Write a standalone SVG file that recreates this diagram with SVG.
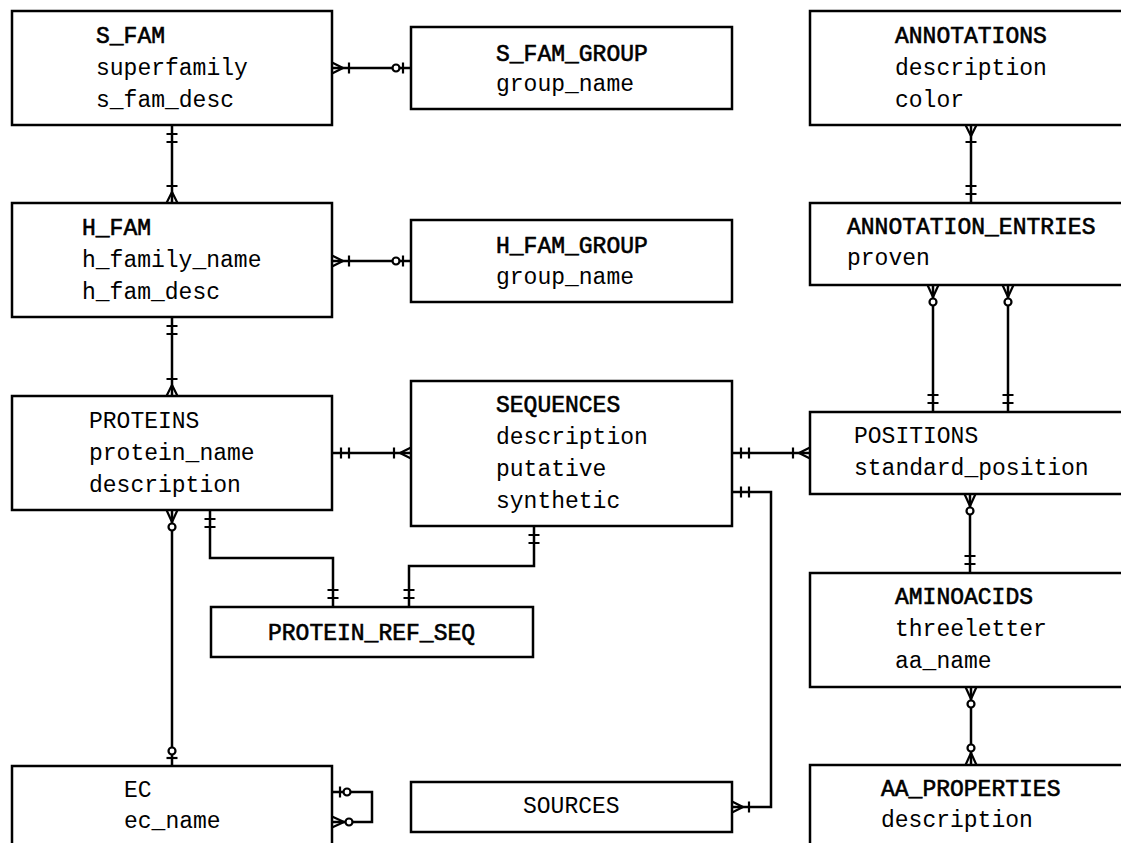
<svg xmlns="http://www.w3.org/2000/svg" xmlns:xlink="http://www.w3.org/1999/xlink" width="1121" height="843" viewBox="0 0 1121 843">
<style>
.box{fill:#fff;stroke:#000;stroke-width:2.5}
.t{font-family:"Liberation Mono","DejaVu Sans Mono",monospace;font-size:23px;fill:#000}
.b{stroke:#000;stroke-width:0.6}
.ln{fill:none;stroke:#000;stroke-width:2.5}
.sym{fill:none;stroke:#000;stroke-width:2.2}
.sym circle{fill:#fff}
</style>
<defs>
<g id="one" class="sym"><path d="M9,-5.5V5.5M17,-5.5V5.5"/></g>
<g id="onemany" class="sym"><path d="M0,-5.5L11,0L0,5.5M17,-5.5V5.5"/></g>
<g id="zeromany" class="sym"><path d="M0,-5.5L12,0L0,5.5"/><circle cx="17" cy="0" r="3.5"/></g>
<g id="zeroone" class="sym"><path d="M8,-5.5V5.5"/><circle cx="15" cy="0" r="3.5"/></g>
</defs>
<rect width="1121" height="843" fill="#fff"/>
<g id="connectors">
<path class="ln" d="M332,68H411"/>
<use href="#onemany" transform="translate(332,68)"/>
<use href="#zeroone" transform="translate(411,68) rotate(180)"/>
<path class="ln" d="M172,125V203"/>
<use href="#one" transform="translate(172,125) rotate(90)"/>
<use href="#onemany" transform="translate(172,203) rotate(-90)"/>
<path class="ln" d="M332,261H411"/>
<use href="#onemany" transform="translate(332,261)"/>
<use href="#zeroone" transform="translate(411,261) rotate(180)"/>
<path class="ln" d="M172,317V396"/>
<use href="#one" transform="translate(172,317) rotate(90)"/>
<use href="#onemany" transform="translate(172,396) rotate(-90)"/>
<path class="ln" d="M332,453H411"/>
<use href="#one" transform="translate(332,453)"/>
<use href="#onemany" transform="translate(411,453) rotate(180)"/>
<path class="ln" d="M172,510V766"/>
<use href="#zeromany" transform="translate(172,510) rotate(90)"/>
<use href="#zeroone" transform="translate(172,766) rotate(-90)"/>
<path class="ln" d="M210,510V558H333V607"/>
<use href="#one" transform="translate(210,510) rotate(90)"/>
<use href="#one" transform="translate(333,607) rotate(-90)"/>
<path class="ln" d="M534,526V566H409V607"/>
<use href="#one" transform="translate(534,526) rotate(90)"/>
<use href="#one" transform="translate(409,607) rotate(-90)"/>
<path class="ln" d="M732,453H810"/>
<use href="#one" transform="translate(732,453)"/>
<use href="#onemany" transform="translate(810,453) rotate(180)"/>
<path class="ln" d="M732,492H771V807H732"/>
<use href="#one" transform="translate(732,492)"/>
<use href="#onemany" transform="translate(732,807)"/>
<path class="ln" d="M332,792H372V822H332"/>
<use href="#zeroone" transform="translate(332,792)"/>
<use href="#zeromany" transform="translate(332,822)"/>
<path class="ln" d="M971,125V203"/>
<use href="#onemany" transform="translate(971,125) rotate(90)"/>
<use href="#one" transform="translate(971,203) rotate(-90)"/>
<path class="ln" d="M933,285V412"/>
<use href="#zeromany" transform="translate(933,285) rotate(90)"/>
<use href="#one" transform="translate(933,412) rotate(-90)"/>
<path class="ln" d="M1008,285V412"/>
<use href="#zeromany" transform="translate(1008,285) rotate(90)"/>
<use href="#one" transform="translate(1008,412) rotate(-90)"/>
<path class="ln" d="M970,494V573"/>
<use href="#zeromany" transform="translate(970,494) rotate(90)"/>
<use href="#one" transform="translate(970,573) rotate(-90)"/>
<path class="ln" d="M971,687V765"/>
<use href="#zeromany" transform="translate(971,687) rotate(90)"/>
<use href="#zeromany" transform="translate(971,765) rotate(-90)"/>
</g>
<g id="S_FAM">
<rect class="box" x="12" y="11" width="320" height="114"/>
<text class="t b" x="96" y="43">S_FAM</text>
<text class="t" x="96" y="75">superfamily</text>
<text class="t" x="96" y="107">s_fam_desc</text>
</g>
<g id="S_FAM_GROUP">
<rect class="box" x="411" y="27" width="321" height="82"/>
<text class="t b" x="496" y="61">S_FAM_GROUP</text>
<text class="t" x="496" y="91">group_name</text>
</g>
<g id="H_FAM">
<rect class="box" x="12" y="203" width="320" height="114"/>
<text class="t b" x="82" y="235">H_FAM</text>
<text class="t" x="82" y="267">h_family_name</text>
<text class="t" x="82" y="299">h_fam_desc</text>
</g>
<g id="H_FAM_GROUP">
<rect class="box" x="411" y="220" width="321" height="82"/>
<text class="t b" x="496" y="253">H_FAM_GROUP</text>
<text class="t" x="496" y="284">group_name</text>
</g>
<g id="PROTEINS">
<rect class="box" x="12" y="396" width="320" height="114"/>
<text class="t" x="89" y="428">PROTEINS</text>
<text class="t" x="89" y="460">protein_name</text>
<text class="t" x="89" y="492">description</text>
</g>
<g id="SEQUENCES">
<rect class="box" x="411" y="381" width="321" height="145"/>
<text class="t b" x="496" y="412">SEQUENCES</text>
<text class="t" x="496" y="444">description</text>
<text class="t" x="496" y="476">putative</text>
<text class="t" x="496" y="508">synthetic</text>
</g>
<g id="PROTEIN_REF_SEQ">
<rect class="box" x="211" y="607" width="322" height="50"/>
<text class="t b" x="268" y="640">PROTEIN_REF_SEQ</text>
</g>
<g id="EC">
<rect class="box" x="12" y="766" width="320" height="82"/>
<text class="t" x="124" y="797">EC</text>
<text class="t" x="124" y="828">ec_name</text>
</g>
<g id="SOURCES">
<rect class="box" x="411" y="782" width="321" height="50"/>
<text class="t" x="523" y="813">SOURCES</text>
</g>
<g id="ANNOTATIONS">
<rect class="box" x="810" y="11" width="322" height="114"/>
<text class="t b" x="895" y="43">ANNOTATIONS</text>
<text class="t" x="895" y="75">description</text>
<text class="t" x="895" y="107">color</text>
</g>
<g id="ANNOTATION_ENTRIES">
<rect class="box" x="810" y="203" width="322" height="82"/>
<text class="t b" x="847" y="234">ANNOTATION_ENTRIES</text>
<text class="t" x="847" y="265">proven</text>
</g>
<g id="POSITIONS">
<rect class="box" x="810" y="412" width="322" height="82"/>
<text class="t" x="854" y="443">POSITIONS</text>
<text class="t" x="854" y="475">standard_position</text>
</g>
<g id="AMINOACIDS">
<rect class="box" x="810" y="573" width="322" height="114"/>
<text class="t b" x="895" y="604">AMINOACIDS</text>
<text class="t" x="895" y="636">threeletter</text>
<text class="t" x="895" y="668">aa_name</text>
</g>
<g id="AA_PROPERTIES">
<rect class="box" x="810" y="765" width="322" height="82"/>
<text class="t b" x="881" y="796">AA_PROPERTIES</text>
<text class="t" x="881" y="827">description</text>
</g>
</svg>
